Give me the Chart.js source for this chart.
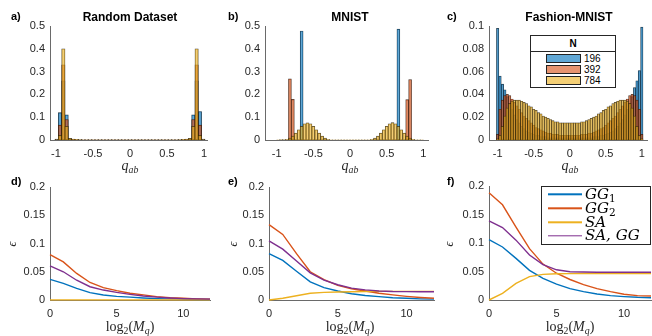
<!DOCTYPE html>
<html><head><meta charset="utf-8">
<script src="https://cdn.jsdelivr.net/npm/chart.js@4.4.0/dist/chart.umd.min.js"></script>
<style>
body{margin:0;width:652px;height:336px;position:relative;background:#fff;overflow:hidden;font-family:'Liberation Sans',Arial,sans-serif;color:#000;}
canvas{position:absolute;}
.t{position:absolute;white-space:nowrap;line-height:1;transform:translate(-50%,-50%);}
.ttl{font-weight:bold;font-size:12px;}
.let{position:absolute;white-space:nowrap;line-height:1;font-weight:bold;font-size:11px;transform:translate(0,-50%);}
.m{font-family:'Liberation Serif','DejaVu Serif',serif;font-size:14px;color:#262626;}
.m sub{font-size:70%;vertical-align:-0.3em;line-height:0;}
.eps{font-family:'Liberation Serif',serif;font-style:italic;font-size:12px;color:#262626;transform:translate(-50%,-50%) rotate(-90deg);}
.leg{position:absolute;background:#fff;border:1px solid #262626;box-sizing:border-box;}
.sw{position:absolute;box-sizing:border-box;border:1px solid #222;}
.lt{position:absolute;font-size:10px;line-height:1;transform:translate(0,-50%);color:#000;}
.ln{position:absolute;height:1.4px;transform:translate(0,-50%);}
.lm{position:absolute;font-family:'DejaVu Serif',serif;font-style:italic;font-size:15px;line-height:1;transform:translate(0,-50%);color:#000;white-space:nowrap;}
.lm sub{font-size:70%;vertical-align:-0.3em;line-height:0;font-style:normal;}
</style></head>
<body>
<canvas id="ca" width="215" height="165" style="left:0;top:0"></canvas>
<canvas id="cb" width="220" height="165" style="left:215px;top:0"></canvas>
<canvas id="cc" width="217" height="165" style="left:435px;top:0"></canvas>
<canvas id="cd" width="215" height="171" style="left:0;top:165px"></canvas>
<canvas id="ce" width="220" height="171" style="left:215px;top:165px"></canvas>
<canvas id="cf" width="217" height="171" style="left:435px;top:165px"></canvas>

<div class="let" style="left:11px;top:15.5px">a)</div>
<div class="let" style="left:228px;top:15.5px">b)</div>
<div class="let" style="left:447px;top:15.5px">c)</div>
<div class="let" style="left:11px;top:180.5px">d)</div>
<div class="let" style="left:228px;top:180.5px">e)</div>
<div class="let" style="left:447px;top:180.5px">f)</div>

<div class="t ttl" style="left:130px;top:16.5px">Random Dataset</div>
<div class="t ttl" style="left:350px;top:16.5px">MNIST</div>
<div class="t ttl" style="left:569px;top:16.5px">Fashion-MNIST</div>

<div class="t m" style="left:130px;top:166px"><i>q</i><sub><i>ab</i></sub></div>
<div class="t m" style="left:350px;top:166px"><i>q</i><sub><i>ab</i></sub></div>
<div class="t m" style="left:570px;top:166px"><i>q</i><sub><i>ab</i></sub></div>

<div class="t m" style="left:130px;top:327px">log<sub>2</sub>(<i>M</i><sub><i>q</i></sub>)</div>
<div class="t m" style="left:350px;top:327px">log<sub>2</sub>(<i>M</i><sub><i>q</i></sub>)</div>
<div class="t m" style="left:570px;top:327px">log<sub>2</sub>(<i>M</i><sub><i>q</i></sub>)</div>

<div class="t eps" style="left:11.5px;top:243.5px">ϵ</div>
<div class="t eps" style="left:233px;top:243.5px">ϵ</div>
<div class="t eps" style="left:449px;top:243.5px">ϵ</div>

<div class="leg" style="left:530px;top:35px;width:86px;height:53px">
  <div style="position:absolute;left:0;right:0;top:0;height:15px;border-bottom:1px solid #262626;text-align:center;font-weight:bold;font-size:10px;line-height:15px;color:#000;">N</div>
</div>
<div class="sw" style="left:546px;top:54px;width:35px;height:9px;background:rgba(0,114,189,0.62)"></div>
<div class="sw" style="left:546px;top:65px;width:35px;height:9px;background:rgba(217,83,25,0.62)"></div>
<div class="sw" style="left:546px;top:76px;width:35px;height:9px;background:rgba(237,177,32,0.62)"></div>
<div class="lt" style="left:584px;top:58.5px">196</div>
<div class="lt" style="left:584px;top:69.5px">392</div>
<div class="lt" style="left:584px;top:80.5px">784</div>

<div class="leg" style="left:541px;top:186px;width:110px;height:59px"></div>
<div class="ln" style="left:548px;top:194.3px;width:34px;background:#0072BD"></div>
<div class="ln" style="left:548px;top:208.3px;width:34px;background:#D95319"></div>
<div class="ln" style="left:548px;top:222.3px;width:34px;background:#EDB120"></div>
<div class="ln" style="left:548px;top:235.5px;width:34px;background:#7E2F8E"></div>
<div class="lm" style="left:585px;top:194px">GG<sub>1</sub></div>
<div class="lm" style="left:585px;top:208px">GG<sub>2</sub></div>
<div class="lm" style="left:585px;top:222px">SA</div>
<div class="lm" style="left:585px;top:235px">SA, GG</div>

<script>
// ---------- Histogram data (probability per bin) ----------
const binsA = [-0.99,-0.945,-0.9,-0.855,-0.81,-0.765,-0.72,-0.675,-0.63,-0.585,-0.54,-0.495,-0.45,-0.405,-0.36,-0.315,-0.27,-0.225,-0.18,-0.135,-0.09,-0.045,0,0.045,0.09,0.135,0.18,0.225,0.27,0.315,0.36,0.405,0.45,0.495,0.54,0.585,0.63,0.675,0.72,0.765,0.81,0.855,0.9,0.945,0.99];
const a196 = [0.004,0.12,0.26,0.11,0.004,0.002,0.001,0.001,0.0005,0.0005,0.0005,0.0005,0.0005,0.0005,0.0005,0.0005,0.0005,0.0005,0.0005,0.0005,0.0005,0.0005,0.0005,0.0005,0.0005,0.0005,0.0005,0.0005,0.0005,0.0005,0.0005,0.0005,0.0005,0.0005,0.0005,0.0005,0.0005,0.001,0.001,0.002,0.004,0.11,0.26,0.125,0.004];
const a392 = [0.002,0.065,0.33,0.09,0.005,0.003,0.002,0.001,0.0005,0.0005,0.0005,0.0005,0.0005,0.0005,0.0005,0.0005,0.0005,0.0005,0.0005,0.0005,0.0005,0.0005,0.0005,0.0005,0.0005,0.0005,0.0005,0.0005,0.0005,0.0005,0.0005,0.0005,0.0005,0.0005,0.0005,0.0005,0.0005,0.001,0.002,0.003,0.005,0.09,0.33,0.065,0.002];
const a784 = [0.002,0.02,0.40,0.06,0.007,0.004,0.003,0.002,0.001,0.001,0.001,0.001,0.001,0.001,0.001,0.001,0.001,0.001,0.001,0.001,0.001,0.001,0.001,0.001,0.001,0.001,0.001,0.001,0.001,0.001,0.001,0.001,0.001,0.001,0.001,0.001,0.001,0.002,0.003,0.004,0.007,0.06,0.40,0.02,0.002];

const binsB = [-0.98,-0.94,-0.9,-0.86,-0.82,-0.78,-0.74,-0.7,-0.66,-0.62,-0.58,-0.54,-0.5,-0.46,-0.42,-0.38,-0.34,-0.3,-0.26,-0.22,-0.18,-0.14,-0.1,-0.06,-0.02,0.02,0.06,0.1,0.14,0.18,0.22,0.26,0.3,0.34,0.38,0.42,0.46,0.5,0.54,0.58,0.62,0.66,0.7,0.74,0.78,0.82,0.86,0.9,0.94,0.98];
const b196 = [0,0,0,0,0,0,0,0,0.478,0,0,0,0,0,0,0,0,0,0,0,0,0,0,0,0,0,0,0,0,0,0,0,0,0,0,0,0,0,0,0,0,0.486,0,0,0,0,0,0,0,0];
const b392 = [0,0,0,0,0.268,0.178,0,0,0,0,0,0,0,0,0,0,0,0,0,0,0,0,0,0,0,0,0,0,0,0,0,0,0,0,0,0,0,0,0,0,0,0,0,0,0.177,0.265,0,0,0,0];
const b784 = [0.001,0.002,0.002,0.003,0.008,0.017,0.030,0.045,0.060,0.071,0.075,0.071,0.060,0.045,0.030,0.017,0.008,0.003,0.001,0.001,0.001,0.001,0.001,0.001,0.001,0.001,0.001,0.001,0.001,0.001,0.001,0.001,0.003,0.008,0.017,0.030,0.045,0.060,0.071,0.076,0.071,0.060,0.045,0.030,0.017,0.008,0.003,0.001,0.001,0.001];

const binsC = [-1,-0.9667,-0.9333,-0.9,-0.8667,-0.8333,-0.8,-0.7667,-0.7333,-0.7,-0.6667,-0.6333,-0.6,-0.5667,-0.5333,-0.5,-0.4667,-0.4333,-0.4,-0.3667,-0.3333,-0.3,-0.2667,-0.2333,-0.2,-0.1667,-0.1333,-0.1,-0.0667,-0.0333,0,0.0333,0.0667,0.1,0.1333,0.1667,0.2,0.2333,0.2667,0.3,0.3333,0.3667,0.4,0.4333,0.4667,0.5,0.5333,0.5667,0.6,0.6333,0.6667,0.7,0.7333,0.7667,0.8,0.8333,0.8667,0.9,0.9333,0.9667,1];
const c196 = [0.098,0.056,0.049,0.044,0.038,0.032,0.027,0.022,0.018,0.015,0.012,0.010,0.008,0.007,0.006,0.005,0.004,0.004,0.003,0.003,0.003,0.002,0.002,0.002,0.002,0.002,0.002,0.002,0.002,0.002,0.002,0.002,0.002,0.002,0.002,0.002,0.002,0.002,0.002,0.002,0.003,0.003,0.003,0.004,0.004,0.005,0.006,0.007,0.008,0.010,0.012,0.015,0.018,0.022,0.027,0.032,0.038,0.046,0.052,0.061,0.099];
const c392 = [0.005,0.027,0.035,0.039,0.040,0.039,0.036,0.033,0.030,0.027,0.024,0.021,0.019,0.017,0.015,0.013,0.011,0.010,0.009,0.008,0.007,0.006,0.006,0.005,0.005,0.005,0.004,0.004,0.004,0.004,0.004,0.004,0.004,0.004,0.004,0.005,0.005,0.005,0.006,0.006,0.007,0.008,0.009,0.010,0.011,0.013,0.015,0.017,0.019,0.021,0.024,0.027,0.030,0.033,0.036,0.039,0.040,0.039,0.035,0.027,0.005];
const c784 = [0.001,0.004,0.012,0.021,0.028,0.032,0.034,0.035,0.035,0.035,0.034,0.033,0.032,0.030,0.029,0.027,0.026,0.024,0.023,0.021,0.020,0.019,0.018,0.017,0.016,0.016,0.015,0.015,0.015,0.015,0.015,0.015,0.015,0.015,0.015,0.016,0.016,0.017,0.018,0.019,0.020,0.021,0.023,0.024,0.026,0.027,0.029,0.030,0.032,0.033,0.034,0.035,0.035,0.035,0.034,0.032,0.028,0.021,0.012,0.004,0.001];

// ---------- Error curves ----------
const logMq = [0,1,2,3,4,5,6,7,8,9,10,11,12];
const dGG1  = [0.0365,0.0295,0.0205,0.013,0.0088,0.0065,0.005,0.0035,0.0025,0.002,0.0015,0.001,0.001];
const dGG2  = [0.0805,0.0675,0.047,0.031,0.022,0.0165,0.012,0.009,0.006,0.004,0.003,0.002,0.0015];
const dSA   = [0.0003,0.0003,0.0003,0.0003,0.0003,0.0003,0.0003,0.0003,0.0003,0.0003,0.0003,0.0003,0.0003];
const dSAGG = [0.0605,0.050,0.035,0.0235,0.0176,0.0135,0.010,0.007,0.005,0.0035,0.0025,0.002,0.0015];
const eGG1  = [0.082,0.07,0.051,0.032,0.022,0.016,0.011,0.008,0.006,0.004,0.003,0.002,0.0015];
const eGG2  = [0.1335,0.116,0.082,0.05,0.036,0.026,0.02,0.016,0.012,0.009,0.0065,0.0045,0.003];
const eSA   = [0,0.003,0.0076,0.012,0.0135,0.0142,0.0147,0.015,0.0152,0.0153,0.0153,0.0153,0.0153];
const eSAGG = [0.1047,0.09,0.069,0.048,0.035,0.027,0.021,0.018,0.016,0.015,0.0148,0.0147,0.0146];
const fGG1  = [0.106,0.093,0.073,0.052,0.038,0.028,0.02,0.0146,0.0105,0.0076,0.006,0.0047,0.004];
const fGG2  = [0.188,0.167,0.128,0.09,0.063,0.047,0.036,0.027,0.02,0.0146,0.01,0.0076,0.007];
const fSA   = [0,0.0117,0.029,0.041,0.045,0.046,0.0463,0.0465,0.0466,0.0466,0.0466,0.0466,0.0466];
const fSAGG = [0.139,0.127,0.105,0.079,0.062,0.053,0.0496,0.049,0.0488,0.0488,0.0488,0.0488,0.0488];

const seriesNames = ['196','392','784'];
const lineNames = ['GG1','GG2','SA','SA,GG'];

// ---------- styling ----------
Chart.defaults.font.family = "'Liberation Sans', Arial, sans-serif";
Chart.defaults.font.size = 11;
Chart.defaults.color = '#262626';
Chart.defaults.animation = false;
Chart.defaults.plugins.legend.display = false;
Chart.defaults.plugins.tooltip.enabled = false;

const AX = '#6a6a6a';
const histFill = ['rgba(0,114,189,0.62)','rgba(217,83,25,0.62)','rgba(237,177,32,0.62)'];
const lineCol = ['#0072BD','#D95319','#EDB120','#7E2F8E'];
const fmt = v => String(parseFloat(Number(v).toFixed(4)));

function scales(xmin, xmax, xstep, ymax, ystep, yW, xH) {
  return {
    x: {type:'linear', min:xmin, max:xmax, offset:false,
        grid:{display:false, drawTicks:false, offset:false},
        border:{display:true, color:AX, width:1},
        ticks:{stepSize:xstep, includeBounds:false, padding:7, maxRotation:0, autoSkip:false, callback:fmt},
        afterFit(s){ s.height = xH; }},
    y: {type:'linear', min:0, max:ymax,
        grid:{display:false, drawTicks:false},
        border:{display:true, color:AX, width:1},
        ticks:{stepSize:ystep, includeBounds:false, padding:5, callback:fmt},
        afterFit(s){ s.width = yW; }}
  };
}

function hist(id, bins, vals, xmin, xmax, ymax, ystep, yW, xH, pad) {
  new Chart(document.getElementById(id), {
    type:'bar',
    data:{labels:bins, datasets: vals.map((v,k)=>({
      label: seriesNames[k], data:v, backgroundColor:histFill[k],
      borderColor:'rgba(0,0,0,0.75)', borderWidth:0.45, borderSkipped:false,
      grouped:false, barPercentage:1, categoryPercentage:1, order:3-k }))},
    options:{responsive:false, animation:false, layout:{padding:pad},
      scales: scales(xmin, xmax, 0.5, ymax, ystep, yW, xH)}
  });
}

function lines(id, vals, yW, xH, pad) {
  new Chart(document.getElementById(id), {
    type:'line',
    data:{labels:logMq, datasets: vals.map((v,k)=>({
      label: lineNames[k], data:v, borderColor:lineCol[k], backgroundColor:lineCol[k],
      borderWidth:1.4, pointRadius:0, tension:0, fill:false, clip:4, order:4-k }))},
    options:{responsive:false, animation:false, layout:{padding:pad},
      scales: scales(0, 12, 5, 0.2, 0.05, yW, xH)}
  });
}

hist('ca', binsA, [a196,a392,a784], -1.08, 1.04, 0.5, 0.1, 50, 25, {left:0,right:8,top:26,bottom:0});
hist('cb', binsB, [b196,b392,b784], -1.16, 1.064, 0.5, 0.1, 50, 25, {left:0,right:7,top:26,bottom:0});
hist('cc', binsC, [c196,c392,c784], -1.12, 1.08, 0.1, 0.02, 54, 25, {left:0,right:4,top:26,bottom:0});

lines('cd', [dGG1,dGG2,dSA,dSAGG], 50, 36, {left:0,right:5,top:22,bottom:0});
lines('ce', [eGG1,eGG2,eSA,eSAGG], 54, 36, {left:0,right:1,top:22,bottom:0});
lines('cf', [fGG1,fGG2,fSA,fSAGG], 54, 36, {left:0,right:1,top:21,bottom:0});
</script>
</body></html>
